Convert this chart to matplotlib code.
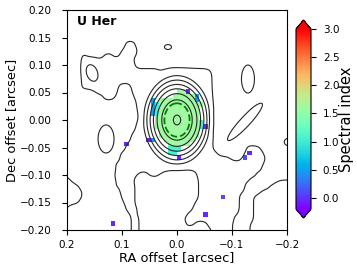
import numpy as np
import matplotlib
matplotlib.use('Agg')
import matplotlib.pyplot as plt
from matplotlib.colors import Normalize

# ---------------- data ----------------
# Extended low-level emission on a coarse 0.01" grid ('|' only groups 10 columns).
# columns: RA from +0.2 to -0.2, rows: Dec from +0.2 to -0.2 ; digit * ext_unit = intensity
ext_rows = [
    "..........|..........|..........|..........|.",
    "..........|..........|..........|..........|.",
    "..........|..........|..........|..........|.",
    "..........|..........|..........|..........|.",
    "..........|..........|..........|..........|.",
    "..........|..........|..........|..........|.",
    "..........|.44.......|..........|..........|.",
    "..........|2442......|..........|..........|.",
    "...3...33.|4442......|..........|..........|.",
    "...4443444|443.......|..........|..........|.",
    "...4444444|444.......|..........|..........|.",
    "...4444444|4444444234|4444443...|..........|.",
    "...4444444|4444444444|4444444...|..........|.",
    "...4444444|4444444444|4444444...|..........|.",
    "...4444444|..44444444|4444444...|..........|.",
    ".....24443|..34444444|4444444...|..........|.",
    ".......442|..24444444|4444444...|..........|.",
    "..........|...4444444|4444444...|..........|.",
    "..........|...3444444|4444444...|..........|.",
    "..........|...2444444|4444443...|..........|.",
    "..........|...2444444|4444443...|..........|.",
    "..........|...4444444|4444443...|..........|.",
    "..........|..24444444|4444443...|..........|.",
    "..........|..44444444|4444444...|..........|.",
    "..........|.244444444|4444444...|..........|.",
    "..........|.444444444|4444444...|...443....|.",
    "..........|3444444444|44444442..|..24442...|.",
    "..........|4444444444|4444444444|2134443...|.",
    ".........3|4444444444|4444444444|4444442...|.",
    ".........3|4444444432|2223444444|444444....|.",
    "2........4|4442.342..|....444444|44444.....|.",
    "42.......3|443.......|....344444|4443....23|3",
    "443......3|444.......|....344444|444....344|4",
    "4442......|444.......|....344444|443..24444|4",
    "4442......|344.......|....344444|44..344444|4",
    "443.......|244.......|...2444444|44..344444|4",
    "3.........|.442......|...3444444|44..344444|4",
    "..........|.242......|..34444444|43..344444|4",
    "..........|..43......|.244444444|4...344444|4",
    "..........|..43......|..43.14444|3..2444444|4",
    "..........|..43......|......2444|3..2444444|4",
]
ext_step = 0.01
ext_unit = 0.4
ext_smooth = 0.006

# compact components: RA, Dec ["], peak, sigma major, sigma minor ["], angle of major axis from +RA [deg]
comp_ra = [0.0, 0.0164, -0.129, -0.1236, -0.205, 0.129, 0.1545]
comp_dec = [0.0, 0.1327, 0.0745, -0.0036, -0.040, -0.0345, 0.0855]
comp_peak = [166.0, 2.0, 2.0, 2.0, 2.0, 2.0, 3.0]
comp_smaj = [0.0262, 0.0054, 0.0216, 0.0386, 0.0085, 0.0216, 0.0129]
comp_smin = [0.0198, 0.0038, 0.0100, 0.0076, 0.0062, 0.0123, 0.0083]
comp_pa = [90.0, 0.0, 90.0, 133.0, 0.0, 90.0, 70.0]

contour_levels = [1.0, 3.05, 5.2, 9.5, 17.5, 32.8, 64.1, 158.4]
dashed_levels = [86.3]

# spectral index map (0.008" pixels), central block + isolated pixels
si_pix = 0.008
si_row0 = 18
si_col0 = 18
si_rows = [
    ".......ggp....",
    "......gggggb..",
    ".b.ggggggggb..",
    ".bcgggggggggg.",
    ".bcggggggggg..",
    ".bcggggggggg..",
    "..gggggggggg..",
    "..ggggggggggc.",
    "..ggggggggggcp",
    "...ggggggggg..",
    "...ggggggggg..",
    "pb..ggggggg...",
    ".....ggggg....",
    ".....ccc......",
    ".....cc.......",
    ".......p......",
]
si_codes = {"g": 1.6, "c": 1.05, "b": 0.5, "p": -0.05}
si_pt_ra = [0.0915, 0.1164, -0.0836, -0.0509, -0.1236, -0.1355]
si_pt_dec = [-0.0455, -0.1855, -0.140, -0.169, -0.0655, -0.060]
si_pt_val = [-0.05, -0.05, 0.1, -0.05, 0.1, -0.05]

si_vmin, si_vmax = -0.2, 3.0
cbar_ticks = [0.0, 0.5, 1.0, 1.5, 2.0, 2.5, 3.0]
x_ticks = [0.2, 0.1, 0.0, -0.1, -0.2]
y_ticks = [-0.2, -0.15, -0.1, -0.05, 0.0, 0.05, 0.1, 0.15, 0.2]

# ---------------- build fields ----------------
G = np.array([[0 if ch == '.' else int(ch) for ch in row.replace('|', '')]
              for row in ext_rows], dtype=float) * ext_unit
pad = 4
Gp = np.pad(G, pad, mode='edge')
idx = np.arange(Gp.shape[0]) - pad
ra_c = 0.2 - ext_step * idx
dec_c = 0.2 - ext_step * idx

ra_f = np.linspace(0.215, -0.215, 431)
dec_f = np.linspace(0.215, -0.215, 431)
norm_k = ext_step / (np.sqrt(2 * np.pi) * ext_smooth)
Kx = np.exp(-(ra_f[:, None] - ra_c[None, :]) ** 2 / (2 * ext_smooth ** 2)) * norm_k
Ky = np.exp(-(dec_f[:, None] - dec_c[None, :]) ** 2 / (2 * ext_smooth ** 2)) * norm_k
F = Ky @ Gp @ Kx.T

RA, DEC = np.meshgrid(ra_f, dec_f)
for r0, d0, pk, sa, sb, pa in zip(comp_ra, comp_dec, comp_peak, comp_smaj, comp_smin, comp_pa):
    t = np.deg2rad(pa)
    dx, dy = RA - r0, DEC - d0
    u = dx * np.cos(t) + dy * np.sin(t)
    v = -dx * np.sin(t) + dy * np.cos(t)
    F += pk * np.exp(-u ** 2 / (2 * sa ** 2) - v ** 2 / (2 * sb ** 2))

nsi = int(round(0.4 / si_pix))
SI = np.full((nsi, nsi), np.nan)
for r, row in enumerate(si_rows):
    for c, ch in enumerate(row):
        if ch in si_codes:
            SI[si_row0 + r, si_col0 + c] = si_codes[ch]
for ra, dec, val in zip(si_pt_ra, si_pt_dec, si_pt_val):
    k = int((0.2 - ra) / si_pix)
    m = int((0.2 - dec) / si_pix)
    SI[m, k] = val
si_edges_ra = 0.2 - si_pix * np.arange(nsi + 1)
si_edges_dec = 0.2 - si_pix * np.arange(nsi + 1)

# ---------------- plot ----------------
W, H = 357, 273
fig = plt.figure(figsize=(W / 100, H / 100), dpi=100)
ax = fig.add_axes([67 / W, 1 - 230 / H, 220 / W, 220 / H])
cax = fig.add_axes([296 / W, 1 - 218 / H, 15 / W, 198 / H])

norm = Normalize(vmin=si_vmin, vmax=si_vmax)
pm = ax.pcolormesh(si_edges_ra, si_edges_dec, np.ma.masked_invalid(SI),
                   cmap='rainbow', norm=norm, shading='flat', zorder=1)
ax.contour(ra_f, dec_f, F, levels=contour_levels, colors='0.15',
           linewidths=0.8, linestyles='solid', zorder=2)
ax.contour(ra_f, dec_f, F, levels=dashed_levels, colors='green',
           linewidths=1.3, linestyles='dashed', zorder=3)

ax.set_xlim(0.2, -0.2)
ax.set_ylim(-0.2, 0.2)
ax.set_xticks(x_ticks)
ax.set_yticks(y_ticks)
ax.tick_params(labelsize=7.5, length=3.5, width=0.8)
ax.tick_params(axis='y', pad=7.5)
ax.set_xlabel('RA offset [arcsec]', fontsize=9.4, labelpad=1)
ax.set_ylabel('Dec offset [arcsec]', fontsize=9.4, labelpad=1)
ax.text(0.045, 0.976, 'U Her', transform=ax.transAxes, fontsize=9,
        fontweight='bold', va='top', ha='left')

cb = fig.colorbar(pm, cax=cax, extend='both', ticks=cbar_ticks)
cb.ax.tick_params(labelsize=7.5, length=3.5, width=0.8, pad=5)
cb.set_label('Spectral index', fontsize=10.5, labelpad=0)

fig.savefig('out.png', dpi=100)
